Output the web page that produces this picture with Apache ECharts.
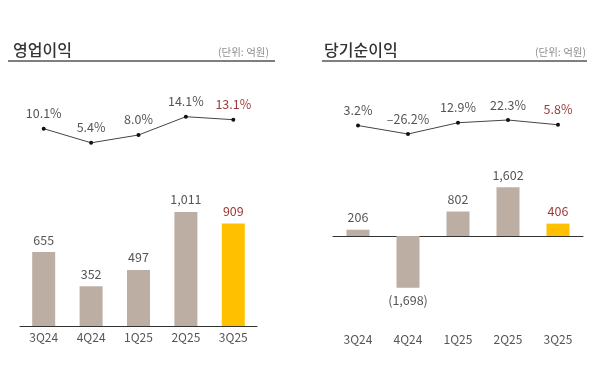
<!DOCTYPE html>
<html><head><meta charset="utf-8">
<script src="https://cdn.jsdelivr.net/npm/echarts@6/dist/echarts.min.js"></script>
<style>html,body{margin:0;padding:0;background:#fff}#c{width:600px;height:383px}</style>
</head><body><div id="c"></div>
<script>
const categories = ['3Q24','4Q24','1Q25','2Q25','3Q25'];
const opProfit = [655, 352, 497, 1011, 909];
const opMargin = [10.1, 5.4, 8.0, 14.1, 13.1];
const netProfit = [206, -1698, 802, 1602, 406];
const netMargin = [3.2, -26.2, 12.9, 22.3, 5.8];
const titles = ['영업이익', '당기순이익'];
const unitText = '(단위: 억원)';

const FONT = '"Noto Sans CJK KR", "Noto Sans", sans-serif';
const BAR = '#bcaea3', HI = '#ffc000', LBL = '#555', HILBL = '#9b3a3a';
const last = categories.length - 1;
const fmtNum = v => { const s = Math.abs(v).toLocaleString('en-US'); return v < 0 ? '(' + s + ')' : s; };
const fmtPct = v => (v < 0 ? '–' : '') + Math.abs(v).toFixed(1) + '%';

function barData(arr) {
  return arr.map((v, i) => ({
    value: v,
    itemStyle: { color: i === last ? HI : BAR },
    label: { color: i === last ? HILBL : LBL, position: v < 0 ? 'bottom' : 'top' }
  }));
}
function lineData(arr) {
  return arr.map((v, i) => ({ value: v, label: { color: i === last ? HILBL : LBL } }));
}

const chart = echarts.init(document.getElementById('c'));
const hiddenX = (gi) => ({ type: 'category', gridIndex: gi, data: categories, show: false });
const hiddenY = (gi, min, max) => ({ type: 'value', gridIndex: gi, min, max, show: false });
const titleStyle = { fontSize: 16, fontWeight: 500, color: '#333', fontFamily: FONT };
const unitStyle = { fontSize: 10.5, fontWeight: 'normal', color: '#8f8f8f', fontFamily: FONT };

chart.setOption({
  animation: false,
  textStyle: { fontFamily: FONT },
  title: [
    { text: titles[0], left: 8, top: 37, textStyle: titleStyle },
    { text: unitText, right: 326, top: 42, textStyle: unitStyle },
    { text: titles[1], left: 319, top: 37, textStyle: titleStyle },
    { text: unitText, right: 9, top: 42, textStyle: unitStyle }
  ],
  graphic: [
    { type: 'line', shape: { x1: 8, y1: 61, x2: 275, y2: 61 }, style: { stroke: '#555', lineWidth: 1.5 } },
    { type: 'line', shape: { x1: 322, y1: 61, x2: 587, y2: 61 }, style: { stroke: '#555', lineWidth: 1.5 } }
  ],
  grid: [
    { left: 20, width: 237, top: 99, height: 60 },
    { left: 20, width: 237, top: 190.6, height: 135.4 },
    { left: 333, width: 250, top: 112, height: 28.9 },
    { left: 333, width: 250, top: 175, height: 122 }
  ],
  xAxis: [
    hiddenX(0),
    { type: 'category', gridIndex: 1, data: categories,
      axisLine: { show: true, lineStyle: { color: '#333', width: 1 } }, axisTick: { show: false },
      axisLabel: { color: LBL, fontSize: 12, margin: 5, fontFamily: FONT } },
    hiddenX(2),
    { type: 'category', gridIndex: 3, data: categories, position: 'bottom',
      axisLine: { show: false, onZero: false }, axisTick: { show: false },
      axisLabel: { color: LBL, fontSize: 12, margin: 36, fontFamily: FONT } },
    { type: 'category', gridIndex: 3, data: categories, position: 'top',
      axisLine: { show: true, onZero: true, lineStyle: { color: '#333', width: 1 } },
      axisTick: { show: false }, axisLabel: { show: false } }
  ],
  yAxis: [
    hiddenY(0, 0, 20),
    hiddenY(1, 0, 1200),
    hiddenY(2, -50, 50),
    hiddenY(3, -2000, 2000)
  ],
  series: [
    { type: 'line', xAxisIndex: 0, yAxisIndex: 0, data: lineData(opMargin),
      symbol: 'circle', symbolSize: 4, itemStyle: { color: '#111' }, lineStyle: { color: '#444', width: 1 },
      label: { show: true, position: 'top', distance: 7, fontSize: 12.5, fontFamily: FONT, formatter: p => fmtPct(p.value) } },
    { type: 'bar', xAxisIndex: 1, yAxisIndex: 1, data: barData(opProfit), barWidth: 23,
      label: { show: true, distance: 6, fontSize: 12.5, fontFamily: FONT, formatter: p => fmtNum(p.value) } },
    { type: 'line', xAxisIndex: 2, yAxisIndex: 2, data: lineData(netMargin),
      symbol: 'circle', symbolSize: 4, itemStyle: { color: '#111' }, lineStyle: { color: '#444', width: 1 },
      label: { show: true, position: 'top', distance: 7, fontSize: 12.5, fontFamily: FONT, formatter: p => fmtPct(p.value) } },
    { type: 'bar', xAxisIndex: 3, yAxisIndex: 3, data: barData(netProfit), barWidth: 23,
      label: { show: true, distance: 6, fontSize: 12.5, fontFamily: FONT, formatter: p => fmtNum(p.value) } }
  ]
});
</script></body></html>
